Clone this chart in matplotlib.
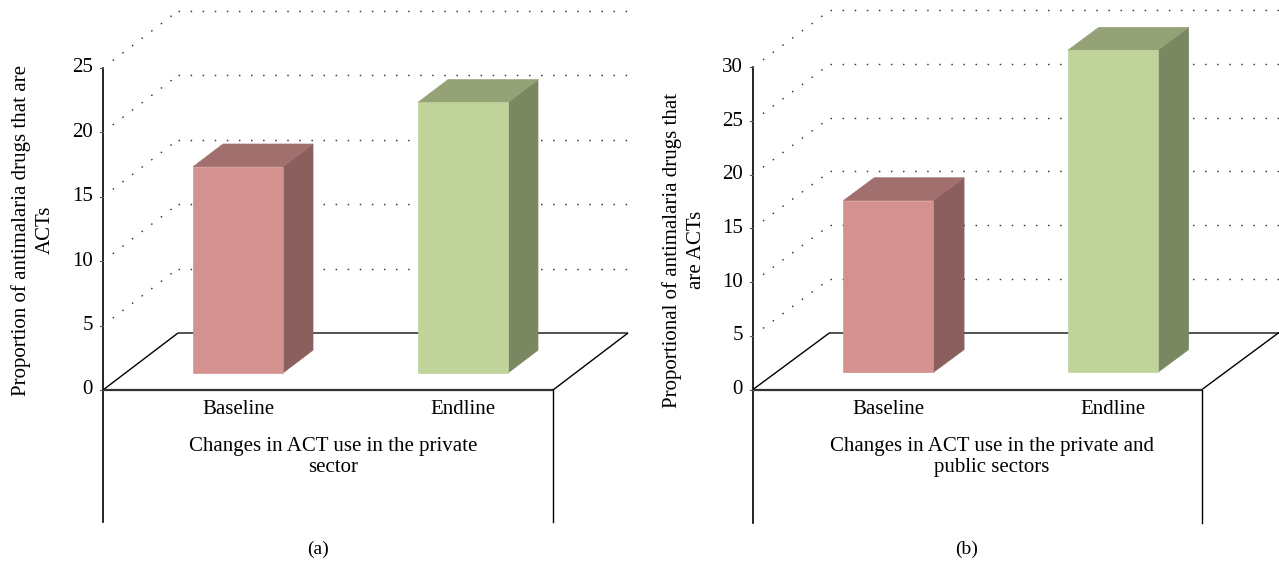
import matplotlib.pyplot as plt
from matplotlib.patches import Polygon

# data
categories = ['Baseline', 'Endline']
private_values = [16, 21]      # (a) private sector
combined_values = [16, 30]     # (b) private and public sectors
private_ticks = [0, 5, 10, 15, 20, 25]
combined_ticks = [0, 5, 10, 15, 20, 25, 30]

W, H = 1279, 567
plt.rcParams['font.family'] = ['Liberation Serif', 'DejaVu Serif']

fig = plt.figure(figsize=(W / 100, H / 100), dpi=100)
fig.patch.set_facecolor('white')

front_cols = ['#d39290', '#bfd39b']
top_cols = ['#a1706e', '#94a276']
side_cols = ['#8a5f5d', '#7a8862']
dots = dict(color='#333333', lw=1.0, linestyle=(0, (1.1, 7.6)))
FS = 15


def panel(left, width, axis_px, right_px, zero_px, unit_px, depth, values, ticks,
          ylabel, ylabel_x, ylabel_y, xlabel, xlabel_x, tag, tag_x, bottom_px):
    ax = fig.add_axes([left / W, 0, width / W, 1])
    cat_px = (right_px - axis_px) / 2.0
    ax.set_xlim(-(axis_px - left) / cat_px, (left + width - axis_px) / cat_px)
    ax.set_ylim((zero_px - H) / unit_px, zero_px / unit_px)
    ax.axis('off')

    ddx = depth[0] / cat_px
    ddy = depth[1] / unit_px

    def p(x, v, d):
        return (x + d * ddx, v + d * ddy)

    def fx(px):
        return (px - axis_px) / cat_px

    def fy(px):
        return (zero_px - px) / unit_px

    n = len(values)
    # back wall + side wall gridlines
    for t in ticks[1:]:
        a, b = p(0, t, 1), p(n, t, 1)
        ax.plot([a[0], b[0]], [a[1], b[1]], zorder=1, **dots)
        a, b = p(0, t, 0.13), p(0, t, 1)
        ax.plot([a[0], b[0]], [a[1], b[1]], zorder=1, **dots)

    # floor
    for (x0, d0), (x1, d1), c, lw in [((0, 1), (n, 1), '#444444', 1.3),
                                      ((0, 0), (0, 1), 'black', 1.0),
                                      ((n, 0), (n, 1), 'black', 1.0),
                                      ((0, 0), (n, 0), '#333333', 1.6)]:
        a, b = p(x0, 0, d0), p(x1, 0, d1)
        ax.plot([a[0], b[0]], [a[1], b[1]], color=c, lw=lw, zorder=2,
                solid_capstyle='butt')

    # front walls going down, value axis
    ax.plot([0, 0], [ticks[-1], fy(bottom_px)], color='black', lw=1.2, zorder=2)
    ax.plot([n, n], [0, fy(bottom_px)], color='black', lw=1.0, zorder=2)
    for t in ticks:
        ax.plot([fx(axis_px - 3), 0], [t, t], color='#555555', lw=0.8, zorder=2)
        ax.text(fx(axis_px - 10), t, str(t), ha='right', va='center', fontsize=FS)

    # 3D bars
    w = 0.2
    for i, v in enumerate(values):
        x0, x1 = i + 0.5 - w, i + 0.5 + w
        front = [p(x0, 0, .3), p(x1, 0, .3), p(x1, v, .3), p(x0, v, .3)]
        top = [p(x0, v, .3), p(x1, v, .3), p(x1, v, .7), p(x0, v, .7)]
        side = [p(x1, 0, .3), p(x1, 0, .7), p(x1, v, .7), p(x1, v, .3)]
        for poly, c in [(side, side_cols[i]), (top, top_cols[i]), (front, front_cols[i])]:
            ax.add_patch(Polygon(poly, closed=True, facecolor=c, edgecolor=c,
                                 lw=0.5, zorder=3))
        ax.text(i + 0.5 + 0.3 * ddx, fy(410), categories[i], ha='center',
                va='center', fontsize=FS)

    ax.text(fx(xlabel_x), fy(457), xlabel, ha='center', va='center',
            fontsize=FS, linespacing=1.2)
    ax.text(fx(ylabel_x), fy(ylabel_y), ylabel, rotation=90, ha='center',
            va='center', fontsize=FS, linespacing=1.35, multialignment='center')
    ax.text(fx(tag_x), fy(549), tag, ha='center', va='center', fontsize=14)
    return ax


panel(0, 640, 103, 553, 390, 12.88, (75, 57), private_values, private_ticks,
      'Proportion of antimalaria drugs that are\nACTs', 33, 230,
      'Changes in ACT use in the private\nsector', 333, '(a)', 318, 522)
panel(640, 639, 753, 1202, 389.5, 10.74, (77, 57), combined_values, combined_ticks,
      'Proportional of antimalaria drugs that\nare ACTs', 684, 250,
      'Changes in ACT use in the private and\npublic sectors', 992, '(b)', 967, 523)

fig.savefig('out.png', dpi=100, facecolor='white')
